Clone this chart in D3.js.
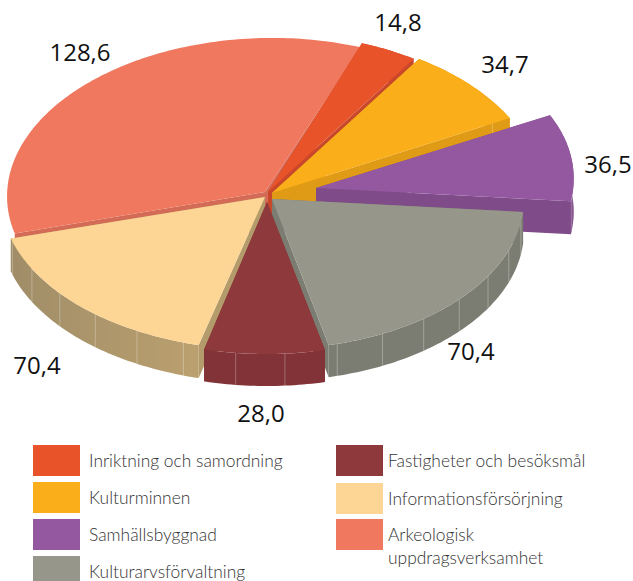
<!DOCTYPE html>
<html><head><meta charset="utf-8">
<script src="https://cdn.jsdelivr.net/npm/d3@7/dist/d3.min.js"></script>
<style>html,body{margin:0;padding:0;background:#fff;overflow:hidden}svg{display:block}</style>
</head><body><svg id="c" width="633" height="581"></svg>
<script>
// DATA
const categories = ["Inriktning och samordning","Kulturminnen","Samhällsbyggnad","Kulturarvsförvaltning","Fastigheter och besöksmål","Informationsförsörjning","Arkeologisk uppdragsverksamhet"];
const values = [14.8,34.7,36.5,70.4,28.0,70.4,128.6];
const valueLabels = ["14,8","34,7","36,5","70,4","28,0","70,4","128,6"];
const topColors = ["#E9532A","#F9AE1A","#93589F","#96968A","#8E393B","#FDD594","#F0785F"];
const wallColors = ["#C9472A","#E09B16","#7F4B88","#7C7D72","#823337","#B39B6B","#D36B56"];
// LAYOUT (perspective corrections of the drawing, not data)
const tipX = [268,272,316,272,267,265,265];
const tipY = [192,193,188,199,202,197,192];
const angleFactor = [.9,.89,.97,1.09,1.035,.904,1.042];
const angleShift = [0,-1.4,0,-6.4,-.5,.8,-3];
const screenTurn = [0,0,-3.2,0,0,0,-1.5];
const rx = [267,269,258,252,257,264,258];
const ry = [159,160,153,150,152,153,154];
const depths = [32,32,33,32,32,33,30];
const showsOuterWall = [true,true,true,true,true,true,false];
const labelX = [398,505,608,471,261,37,80];
const labelY = [31,73,173,360,422,374,61];
const drawOrder = [6,0,1,2,5,3,4];

const svg = d3.select("#c");
const defs = svg.append("defs");
const g = defs.append("linearGradient").attr("id","w5");
g.append("stop").attr("offset",0).attr("stop-color","#A08D68");
g.append("stop").attr("offset",1).attr("stop-color","#BBA06F");

const deg = Math.PI/180;
const pie = d3.pie().sort(null).startAngle(20.6*deg).endAngle(380.6*deg);
const arcs = pie(values);
const spans = arcs.map((a,i)=>{
  const s = a.startAngle/deg + angleShift[i];
  return [s, s + (a.endAngle-a.startAngle)/deg*angleFactor[i]];
});

function pt(i,t,dz=0){
  const x0 = Math.sin(t*deg)*rx[i], y0 = -Math.cos(t*deg)*ry[i];
  const r = screenTurn[i]*deg;
  return [tipX[i]+x0*Math.cos(r)-y0*Math.sin(r), tipY[i]+x0*Math.sin(r)+y0*Math.cos(r)+dz];
}
const line = d3.line();
drawOrder.forEach(i=>{
  const [a0,a1] = spans[i];
  const depth = depths[i];
  const ts = d3.range(a0,a1,1).concat([a1]);
  const gg = svg.append("g");
  const wall = i===5 ? "url(#w5)" : wallColors[i];
  const tip = [tipX[i],tipY[i]], tipD = [tipX[i],tipY[i]+depth];
  [a0,a1].forEach(a=>{
    gg.append("path").attr("d",line([tip,pt(i,a),pt(i,a,depth),tipD])+"Z").attr("fill",wallColors[i]);
  });
  if (showsOuterWall[i]) {
    const outer = ts.map(t=>pt(i,t)).concat(ts.slice().reverse().map(t=>pt(i,t,depth)));
    gg.append("path").attr("d",line(outer)+"Z").attr("fill",wall);
    d3.range(Math.ceil(a0/11)*11,a1,11).forEach(t=>{
      gg.append("path").attr("d",line([pt(i,t),pt(i,t,depth)])).attr("stroke","#fff").attr("stroke-opacity",.4).attr("stroke-width",.7).attr("fill","none");
    });
  }
  const top = [tip].concat(ts.map(t=>pt(i,t)));
  gg.append("path").attr("d",line(top)+"Z").attr("fill",topColors[i]);
});

svg.append("g").selectAll("text").data(valueLabels).join("text")
  .attr("x",(d,i)=>labelX[i]).attr("y",(d,i)=>labelY[i]).attr("text-anchor","middle")
  .attr("font-family","'Open Sans'").attr("font-size",24).attr("fill","#111").text(d=>d);

const legX = [33,33,33,33,336,336,336];
const legY = [445,482,519,556,445,483,519];
const legLines = categories.map(c=>c==="Arkeologisk uppdragsverksamhet"?["Arkeologisk","uppdragsverksamhet"]:[c]);
const leg = svg.append("g");
categories.forEach((c,i)=>{
  leg.append("rect").attr("x",legX[i]).attr("y",legY[i]).attr("width",47).attr("height",31).attr("fill",topColors[i]);
  legLines[i].forEach((l,k)=>{
    leg.append("text").attr("x",legX[i]+(i<4?56:52)).attr("y",legY[i]+22+k*23)
      .attr("font-family","Lato").attr("font-weight",300).attr("font-size",17.4).attr("fill","#333").text(l);
  });
});
</script></body></html>
